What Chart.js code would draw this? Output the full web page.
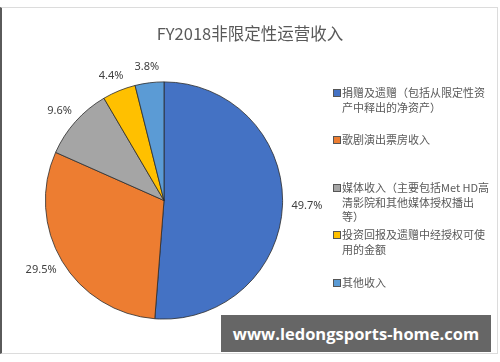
<!DOCTYPE html>
<html>
<head>
<meta charset="utf-8">
<script src="https://cdn.jsdelivr.net/npm/chart.js@4.4.0/dist/chart.umd.min.js"></script>
<style>
  body { margin: 0; background: #fff; }
  #wrap { position: relative; width: 500px; height: 362px; overflow: hidden; font-family: "Noto Sans CJK SC", sans-serif; }
  #frame { position: absolute; left: 0; top: 7px; width: 495px; height: 345px;
           border-left: 2px solid #5a5a5a; border-top: 1px solid #dcdcdc;
           border-right: 1px solid #dcdcdc; border-bottom: 1px solid #dcdcdc; }
  canvas { position: absolute; left: 0; top: 0; }
  #title { position: absolute; left: 0; width: 500px; top: 22px; text-align: center;
           font-size: 16.5px; line-height: 22px; color: #595959; }
  #legend { position: absolute; left: 333px; top: 0; width: 165px; }
  .item { position: absolute; left: 0; white-space: nowrap; font-size: 11px; line-height: 14.5px; color: #595959; }
  .item .sw { position: absolute; left: 0; top: 4px; width: 6px; height: 6px; border: 0.5px solid #555; }
  .item .tx { margin-left: 9px; }
  #mark { position: absolute; left: 221px; top: 315px; width: 270px; height: 37px; background: #666;
          color: #fff; font: bold 16.5px "Open Sans", sans-serif; line-height: 37px; text-align: center; }
</style>
</head>
<body>
<div id="wrap">
  <div id="frame"></div>
  <canvas id="pie" width="500" height="362"></canvas>
  <div id="title"></div>
  <div id="legend"></div>
  <div id="mark">www.ledongsports-home.com</div>
</div>
<script>
const chartTitle = 'FY2018非限定性运营收入';
const categories = [
  ['捐赠及遗赠（包括从限定性资', '产中释出的净资产）'],
  ['歌剧演出票房收入'],
  ['媒体收入（主要包括Met HD高', '清影院和其他媒体授权播出', '等）'],
  ['投资回报及遗赠中经授权可使', '用的金额'],
  ['其他收入']
];
const shares = [49.7, 29.5, 9.6, 4.4, 3.8];
const colors = ['#4472C4', '#ED7D31', '#A5A5A5', '#FFC000', '#5B9BD5'];

document.getElementById('title').textContent = chartTitle;

// legend rows placed like the Excel original
const legendTops = [85, 132, 180, 227, 275];
const legend = document.getElementById('legend');
categories.forEach((lines, i) => {
  const d = document.createElement('div');
  d.className = 'item';
  d.style.top = legendTops[i] + 'px';
  d.innerHTML = '<span class="sw" style="background:' + colors[i] + '"></span><div class="tx">' + lines.join('<br>') + '</div>';
  legend.appendChild(d);
});

const outsideLabels = {
  id: 'outsideLabels',
  afterDatasetsDraw(chart) {
    const ctx = chart.ctx;
    const meta = chart.getDatasetMeta(0);
    ctx.save();
    ctx.font = '11px "Noto Sans", sans-serif';
    ctx.fillStyle = '#404040';
    ctx.textAlign = 'center';
    ctx.textBaseline = 'middle';
    meta.data.forEach((arc, i) => {
      const p = arc.getProps(['x', 'y', 'startAngle', 'endAngle', 'outerRadius'], true);
      const mid = (p.startAngle + p.endAngle) / 2;
      const txt = shares[i].toFixed(1) + '%';
      const hw = ctx.measureText(txt).width / 2;
      const r = p.outerRadius + 9;
      const c = Math.cos(mid), s = Math.sin(mid);
      ctx.fillText(txt, p.x + c * r + c * hw, p.y + s * r + s * 7);
    });
    ctx.restore();
  }
};

new Chart(document.getElementById('pie'), {
  type: 'pie',
  data: {
    labels: categories.map(l => l.join('')),
    datasets: [{
      data: shares,
      backgroundColor: colors,
      borderColor: '#2b2b2b',
      borderWidth: 0.8
    }]
  },
  options: {
    responsive: false,
    animation: false,
    layout: { padding: { left: 45, right: 217, top: 81, bottom: 42 } },
    plugins: {
      legend: { display: false },
      tooltip: { enabled: false }
    }
  },
  plugins: [outsideLabels]
});
</script>
</body>
</html>
